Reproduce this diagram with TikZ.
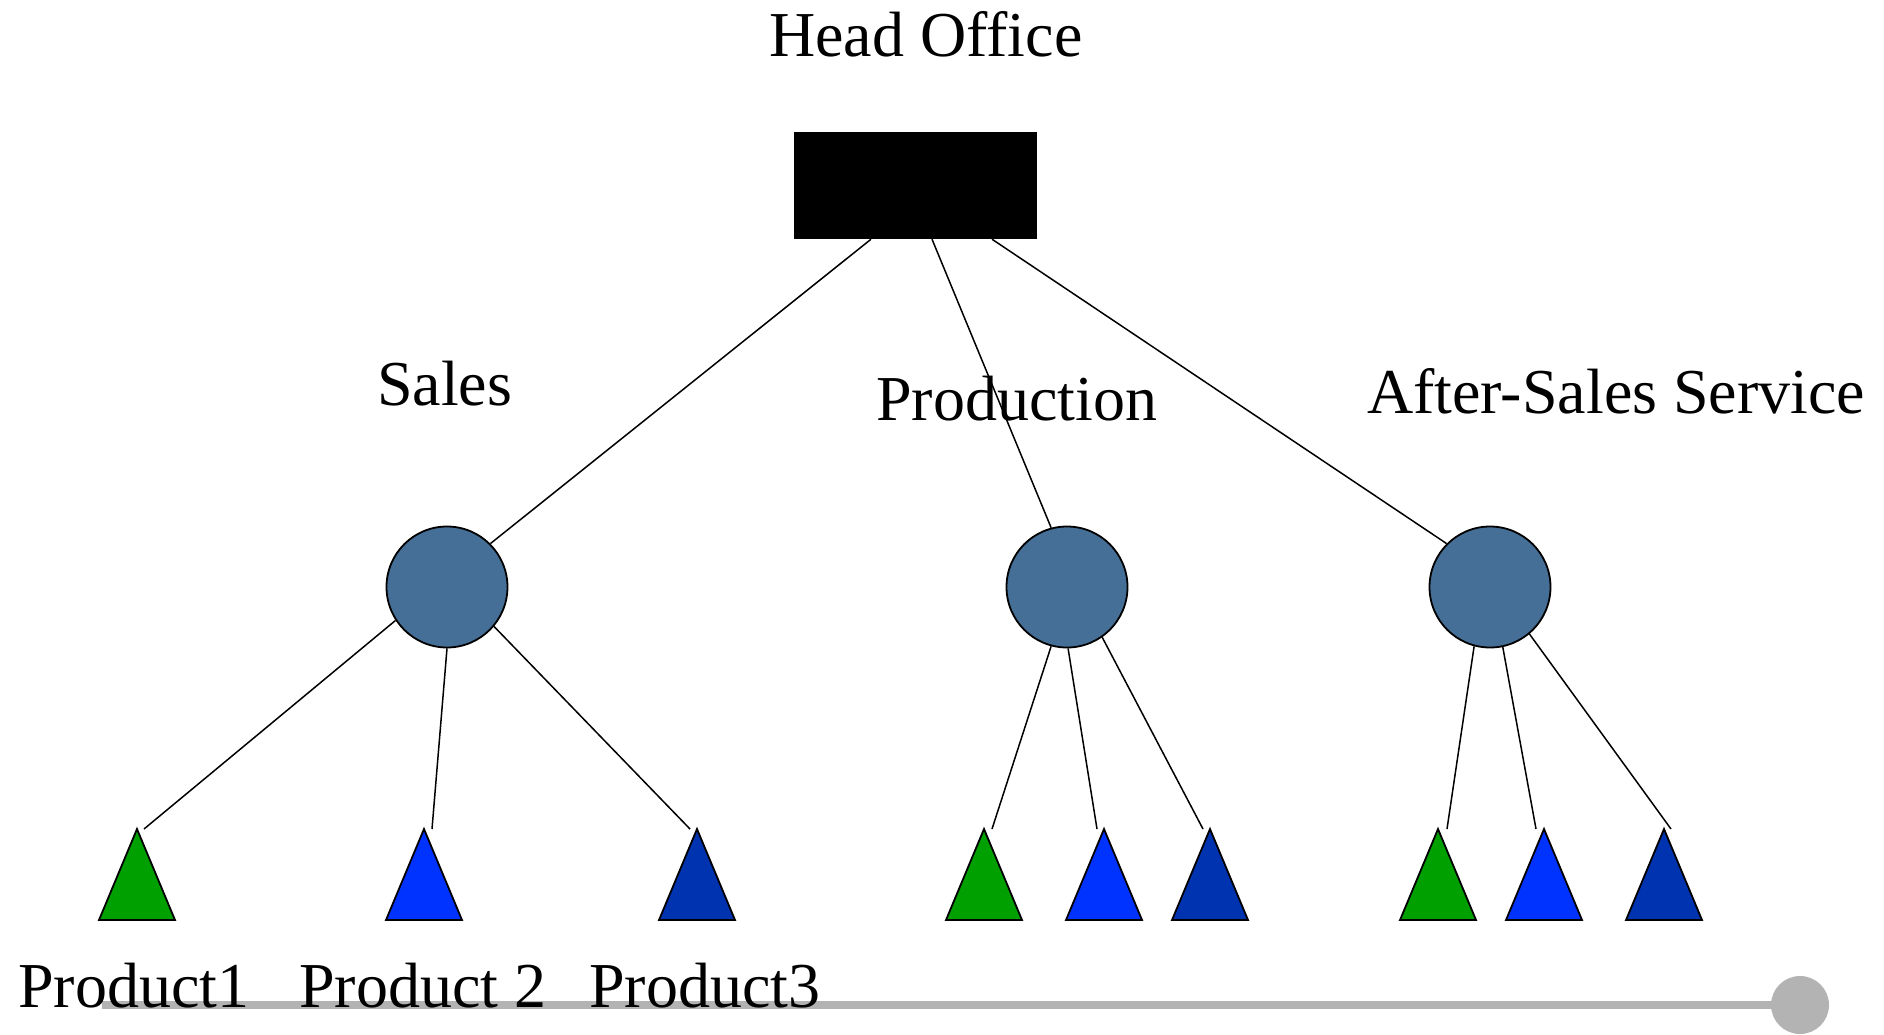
\documentclass[tikz,border=0pt]{standalone}
\usepackage{fontspec}
\setmainfont{Liberation Serif}
\begin{document}
\begin{tikzpicture}[x=1pt,y=-1pt,
  lbl/.style={anchor=base west,inner sep=0pt,font=\fontsize{64}{70}\selectfont},
  unit/.style={circle,draw=black,line width=1.8pt,fill=steel,minimum size=121pt,inner sep=0pt},
  tri/.style={draw=black,line width=1.8pt,line join=miter},
  conn/.style={draw=black,line width=1.5pt}]
\definecolor{steel}{RGB}{70,111,151}
\definecolor{pg}{RGB}{0,160,0}
\definecolor{pb}{RGB}{0,51,255}
\definecolor{pd}{RGB}{0,51,176}
\definecolor{bar}{RGB}{179,179,179}
\useasboundingbox (0,0) rectangle (1884,1034);
% bottom gray bar
\coordinate (barL) at (102,1005);
\node[circle,fill=bar,minimum size=58pt,inner sep=0pt] (knob) at (1800,1005) {};
\draw[bar,line width=7.5pt] (barL) -- (knob.center);
% head office
\node[fill=black,minimum width=243pt,minimum height=107pt,inner sep=0pt] (ho) at (915.5,185.5) {};
\node[lbl] (hol) at (769,56.5) {Head Office};
% departments
\node[unit] (sales) at (447,587) {};
\node[unit] (prod) at (1067,587) {};
\node[unit] (after) at (1490,587) {};
\node[lbl] (salesl) at (377,405) {Sales};
\node[lbl] (prodl) at (876,420) {Production};
\node[lbl] (afterl) at (1367,413) {After-Sales Service};
% products (apex coordinates)
\foreach \n/\x/\c in {t1/137/pg,t2/424/pb,t3/697/pd,t4/984/pg,t5/1104/pb,t6/1210/pd,t7/1438/pg,t8/1544/pb,t9/1664/pd}{
  \coordinate (\n) at (\x,829);
  \filldraw[tri,fill=\c] (\n) -- ++(38,91) -- ++(-76,0) -- cycle;
}
\node[lbl] (p1) at (18,1007) {Product1};
\node[lbl] (p2) at (299,1007) {Product 2};
\node[lbl] (p3) at (589,1007) {Product3};
% connectors from head office
\draw[conn] ([xshift=-44.5pt]ho.south) -- (sales.45);
\draw[conn] ([xshift=16.5pt]ho.south) -- (prod.105);
\draw[conn] ([xshift=76.5pt]ho.south) -- (after.135);
% connectors to products
\draw[conn] (sales.213) -- ([xshift=7pt]t1);
\draw[conn] (sales.270) -- ([xshift=8pt]t2);
\draw[conn] (sales.320) -- ([xshift=-7pt]t3);
\draw[conn] (prod.255) -- ([xshift=8pt]t4);
\draw[conn] (prod.271) -- ([xshift=-7pt]t5);
\draw[conn] (prod.305) -- ([xshift=-7pt]t6);
\draw[conn] (after.255) -- ([xshift=9pt]t7);
\draw[conn] (after.282) -- ([xshift=-8pt]t8);
\draw[conn] (after.310) -- ([xshift=7pt]t9);
\end{tikzpicture}
\end{document}
